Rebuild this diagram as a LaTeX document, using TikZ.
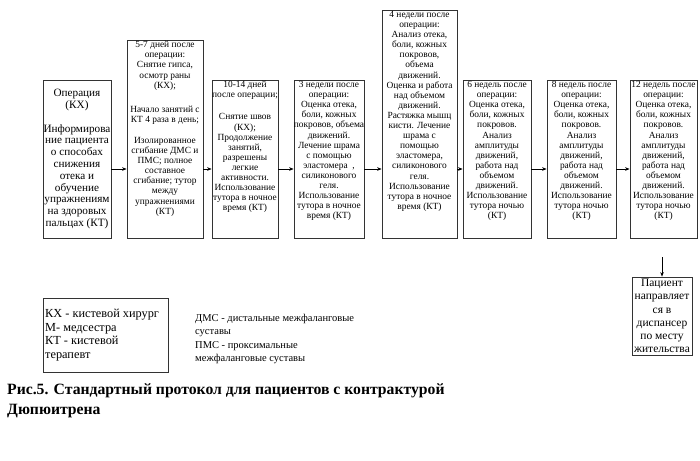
\documentclass[tikz,border=0pt]{standalone}
\usepackage{fontspec}
\setmainfont{Liberation Serif}
\usetikzlibrary{arrows.meta}
\begin{document}
\begin{tikzpicture}[x=1pt,y=-1pt,
  stage/.style={draw=black!80, line width=0.8pt, rectangle, inner sep=0pt},
  stagetext/.style={anchor=north, align=center, inner sep=0pt, font=\fontsize{9.4}{10.1}\selectfont},
  arr/.style={-{Stealth[length=4.5pt,width=3.6pt]}, line width=0.7pt}]
\useasboundingbox (0,0) rectangle (700,460);

% boxes
\node[stage, minimum width=68pt, minimum height=158pt, align=center,
      font=\fontsize{11.2}{11.8}\selectfont] (b1) at (77,159)
  {Операция\\(КХ)\\[11.8pt]Информирова\\ние пациента\\о способах\\снижения\\отека и\\обучение\\упражнениям\\на здоровых\\пальцах (КТ)};
\node[stage, minimum width=76pt, minimum height=198pt] (b2) at (165,139) {};
\node[stage, minimum width=66pt, minimum height=158pt] (b3) at (245,159) {};
\node[stage, minimum width=70pt, minimum height=158pt] (b4) at (329,159) {};
\node[stage, minimum width=75pt, minimum height=228pt] (b5) at (419.5,124) {};
\node[stage, minimum width=68pt, minimum height=158pt] (b6) at (497,159) {};
\node[stage, minimum width=69pt, minimum height=158pt] (b7) at (581.5,159) {};
\node[stage, minimum width=67pt, minimum height=158pt] (b8) at (663.5,159) {};
\node[stage, minimum width=60pt, minimum height=78pt, align=center,
      font=\fontsize{11.5}{13.3}\selectfont] (b9) at (662,316)
  {Пациент\\направляет\\ся в\\диспансер\\по месту\\жительства};

% texts of stage boxes
\node[stagetext] (t2) at ([yshift=-1.5pt]b2.north)
  {5-7 дней после\\операции:\\Снятие гипса,\\осмотр раны\\(КХ);\\[14pt]Начало занятий с\\КТ 4 раза в день;\\[11pt]Изолированное\\сгибание ДМС и\\ПМС; полное\\составное\\сгибание; тутор\\между\\упражнениями\\(КТ)};
\node[stagetext] (t3) at ([yshift=-1.5pt]b3.north)
  {10-14 дней\\после операции;\\[12pt]Снятие швов\\(КХ);\\Продолжение\\занятий,\\разрешены\\легкие\\активности.\\Использование\\тутора в ночное\\время (КТ)};
\node[stagetext] (t4) at ([yshift=-1.5pt]b4.north)
  {3 недели после\\операции:\\Оценка отека,\\боли, кожных\\покровов, объема\\движений.\\Лечение шрама\\с помощью\\эластомера\enspace,\\силиконового\\геля.\\Использование\\тутора в ночное\\время (КТ)};
\node[stagetext] (t5) at ([yshift=-1.5pt]b5.north)
  {4 недели после\\операции:\\Анализ отека,\\боли, кожных\\покровов,\\объема\\движений.\\Оценка и работа\\над объемом\\движений.\\Растяжка мышц\\кисти. Лечение\\шрама с\\помощью\\эластомера,\\силиконового\\геля.\\Использование\\тутора в ночное\\время (КТ)};
\node[stagetext] (t6) at ([yshift=-1.5pt]b6.north)
  {6 недель после\\операции:\\Оценка отека,\\боли, кожных\\покровов.\\Анализ\\амплитуды\\движений,\\работа над\\объемом\\движений.\\Использование\\тутора ночью\\(КТ)};
\node[stagetext] (t7) at ([yshift=-1.5pt]b7.north)
  {8 недель после\\операции:\\Оценка отека,\\боли, кожных\\покровов.\\Анализ\\амплитуды\\движений,\\работа над\\объемом\\движений.\\Использование\\тутора ночью\\(КТ)};
\node[stagetext] (t8) at ([yshift=-1.5pt]b8.north)
  {12 недель после\\операции:\\Оценка отека,\\боли, кожных\\покровов.\\Анализ\\амплитуды\\движений,\\работа над\\объемом\\движений.\\Использование\\тутора ночью\\(КТ)};

% arrows
\coordinate (ay) at (0,169);
\draw[arr] (b1.east |- ay) -- (b2.west |- ay);
\draw[arr] (b2.east |- ay) -- (b3.west |- ay);
\draw[arr] (b3.east |- ay) -- (b4.west |- ay);
\draw[arr] (b4.east |- ay) -- (b5.west |- ay);
\draw[arr] (b5.east |- ay) -- (b6.west |- ay);
\draw[arr] (b6.east |- ay) -- (b7.west |- ay);
\draw[arr] (b7.east |- ay) -- (b8.west |- ay);
\coordinate (a9) at ([yshift=-19pt]b8.south);
\draw[arr] (b9.north |- a9) -- (b9.north);

% legend
\node[draw=black!80, line width=0.8pt, minimum width=125pt, minimum height=74pt,
      inner sep=0pt, anchor=north west] (leg) at (43,298) {};
\node[anchor=north west, align=left, inner sep=0pt,
      font=\fontsize{12.3}{13.5}\selectfont] (legt) at ([xshift=2pt,yshift=-11pt]leg.north west)
  {КХ - кистевой хирург\\М- медсестра\\КТ - кистевой\\терапевт};
\node[anchor=north west, align=left, inner sep=0pt,
      font=\fontsize{10.5}{13.4}\selectfont] (abbr) at (195,314)
  {ДМС - дистальные межфаланговые\\суставы\\ПМС - проксимальные\\межфаланговые суставы};

% caption
\node[anchor=north west, align=left, inner sep=0pt,
      font=\bfseries\fontsize{15.7}{20}\selectfont] (cap) at (7,383)
  {Рис.5. Стандартный протокол для пациентов с контрактурой\\Дюпюитрена};
\end{tikzpicture}
\end{document}
